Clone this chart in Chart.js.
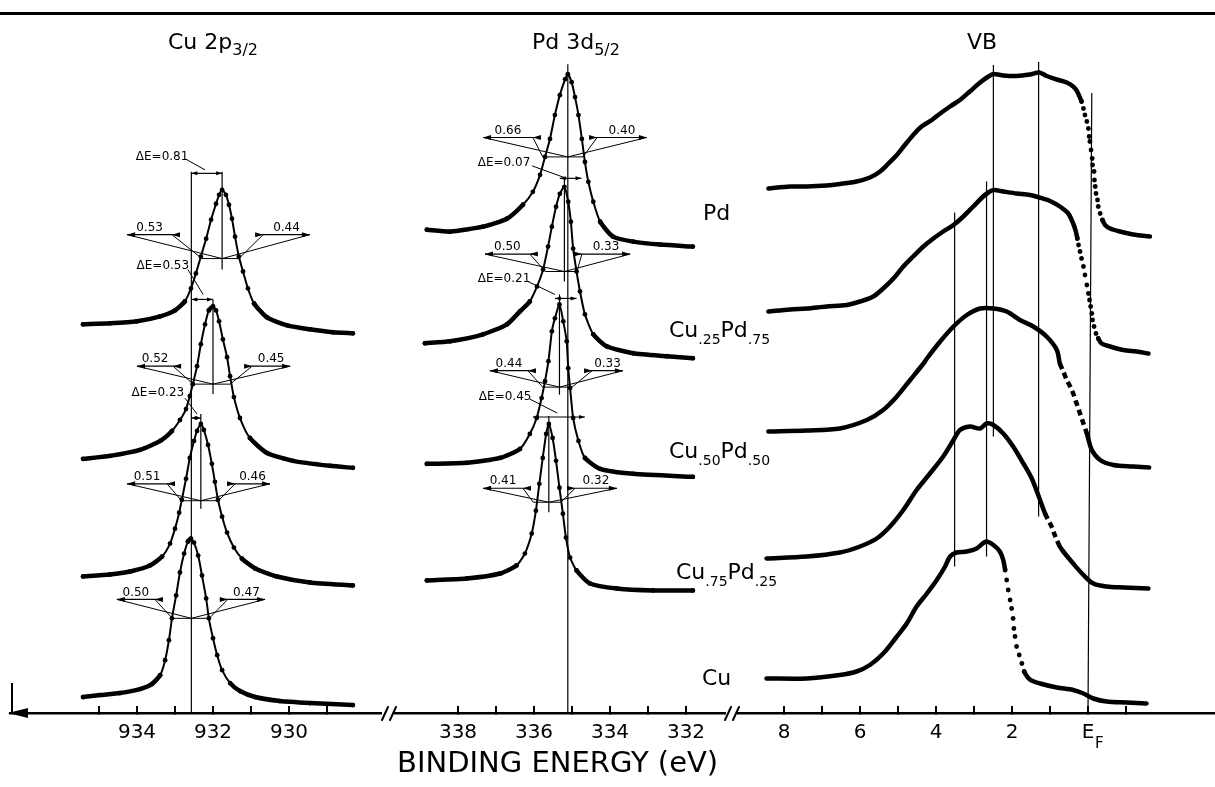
<!DOCTYPE html>
<html>
<head>
<meta charset="utf-8">
<title>XPS Cu-Pd</title>
<script src="https://cdn.jsdelivr.net/npm/chart.js@4.4.7/dist/chart.umd.min.js"></script>
<style>
  html, body { margin: 0; padding: 0; background: #fff; }
  body { position: relative; width: 1215px; height: 787px; overflow: hidden; color: #000; font-family: "DejaVu Sans", sans-serif; }
  canvas { position: absolute; top: 13px; }
  #frame { position: absolute; left: 0; top: 12px; width: 1215px; height: 3px; background: #000; }
  .t { position: absolute; font-size: 22px; line-height: 22px; white-space: nowrap; }
  .t .sb { position: relative; top: 6px; font-size: 16px; }
  .t .s { position: relative; top: 7px; font-size: 14px; }
  #xt { position: absolute; left: 397px; top: 748px; font-size: 29px; line-height: 29px; white-space: nowrap; }
</style>
</head>
<body>
<div id="frame"></div>
<canvas id="cu" width="400" height="774" style="left:0px"></canvas>
<canvas id="pd" width="360" height="774" style="left:380px"></canvas>
<canvas id="vb" width="495" height="774" style="left:720px"></canvas>

<div class="t" style="left:168px;top:31px">Cu 2p<span class="sb">3/2</span></div>
<div class="t" style="left:532px;top:31px">Pd 3d<span class="sb">5/2</span></div>
<div class="t" style="left:967px;top:31px">VB</div>

<div class="t" style="left:703px;top:202px">Pd</div>
<div class="t" style="left:669px;top:319px">Cu<span class="s">.25</span>Pd<span class="s">.75</span></div>
<div class="t" style="left:669px;top:440px">Cu<span class="s">.50</span>Pd<span class="s">.50</span></div>
<div class="t" style="left:676px;top:561px">Cu<span class="s">.75</span>Pd<span class="s">.25</span></div>
<div class="t" style="left:702px;top:667px">Cu</div>

<div id="xt">BINDING ENERGY (eV)</div>

<script>
// ---- Cu 2p3/2 spectra: binding energy (eV) / intensity (arb. units, offset per alloy)
var cu2pCuE = [935.42, 934.97, 934.45, 933.92, 933.61, 933.39, 933.26, 933.16, 933.08, 932.97, 932.87, 932.76, 932.66, 932.58, 932.50, 932.39, 932.29, 932.18, 932.11, 932.00, 931.89, 931.76, 931.55, 931.29, 930.89, 930.24, 929.45, 928.32];
var cu2pCuI = [3.2, 3.6, 4.0, 4.8, 5.8, 7.6, 10.6, 14.6, 19.0, 23.6, 28.2, 32.0, 34.4, 35.0, 34.2, 31.6, 27.6, 23.0, 19.0, 15.0, 11.6, 8.6, 6.0, 4.4, 3.2, 2.4, 2.0, 1.6];

var cu2pCu75E = [935.42, 934.71, 934.18, 933.66, 933.34, 933.13, 933.00, 932.89, 932.82, 932.71, 932.61, 932.50, 932.42, 932.32, 932.24, 932.13, 932.03, 931.95, 931.87, 931.76, 931.63, 931.45, 931.24, 930.89, 930.32, 929.45, 928.32];
var cu2pCu75I = [27.4, 27.8, 28.4, 29.6, 31.4, 34.0, 37.0, 40.2, 42.8, 47.0, 51.2, 54.6, 56.6, 58.0, 56.8, 53.8, 50.0, 46.4, 42.8, 39.4, 36.2, 33.2, 31.0, 29.0, 27.4, 26.2, 25.6];

var cu2pCu50E = [935.42, 934.71, 933.92, 933.39, 933.08, 932.87, 932.71, 932.61, 932.53, 932.42, 932.32, 932.21, 932.11, 932.00, 931.92, 931.84, 931.74, 931.63, 931.55, 931.45, 931.29, 931.03, 930.58, 929.89, 928.92, 928.32];
var cu2pCu50I = [51.0, 51.6, 52.8, 54.6, 56.6, 58.8, 61.0, 63.6, 66.0, 69.6, 74.0, 78.0, 80.8, 81.6, 80.8, 78.6, 75.0, 71.4, 67.6, 63.4, 59.2, 55.2, 52.2, 50.6, 49.6, 49.2];

var cu2pCu25E = [935.42, 934.71, 934.00, 933.39, 933.00, 932.74, 932.58, 932.45, 932.32, 932.18, 932.05, 931.92, 931.84, 931.76, 931.66, 931.58, 931.50, 931.42, 931.32, 931.21, 931.08, 930.92, 930.58, 930.05, 929.45, 928.84, 928.32];
var cu2pCu25I = [78.0, 78.2, 78.6, 79.6, 80.8, 82.6, 85.2, 88.2, 91.6, 95.2, 99.0, 102.2, 104.0, 105.0, 104.0, 102.0, 99.2, 95.6, 91.6, 88.6, 85.2, 82.2, 79.4, 77.8, 77.0, 76.4, 76.2];

// ---- Pd 3d5/2 spectra
var pd3dPdE = [338.82, 338.21, 337.34, 336.71, 336.29, 336.03, 335.84, 335.71, 335.58, 335.45, 335.32, 335.18, 335.11, 335.01, 334.92, 334.83, 334.74, 334.66, 334.57, 334.44, 334.26, 333.92, 333.39, 332.68, 331.82];
var pd3dPdI = [97.0, 96.6, 97.6, 99.2, 102.0, 104.6, 108.0, 111.6, 115.2, 120.0, 124.0, 127.2, 128.2, 126.6, 123.6, 120.0, 115.2, 110.6, 106.6, 102.6, 98.6, 95.6, 94.6, 94.0, 93.6];

var pd3dCu25E = [338.87, 338.21, 337.34, 336.71, 336.37, 336.11, 335.92, 335.76, 335.63, 335.53, 335.42, 335.32, 335.20, 335.10, 335.03, 334.97, 334.88, 334.79, 334.66, 334.44, 334.09, 333.39, 332.50, 331.82];
var pd3dCu25I = [74.2, 74.6, 76.0, 78.0, 80.6, 82.6, 85.6, 89.0, 93.6, 97.6, 101.6, 104.2, 105.6, 102.6, 98.6, 93.2, 88.6, 84.6, 80.0, 76.0, 73.6, 72.2, 71.6, 71.2];

var pd3dCu50E = [338.82, 337.77, 336.89, 336.37, 336.11, 335.93, 335.80, 335.71, 335.62, 335.53, 335.45, 335.33, 335.23, 335.14, 335.10, 335.05, 334.97, 334.83, 334.66, 334.26, 333.39, 331.82];
var pd3dCu50I = [50.0, 50.2, 51.2, 53.0, 56.0, 59.2, 63.2, 66.6, 70.6, 76.6, 79.2, 82.0, 78.6, 74.6, 69.2, 65.2, 59.2, 54.6, 51.2, 49.0, 48.0, 47.4];

var pd3dCu75E = [338.82, 337.77, 336.89, 336.46, 336.24, 336.06, 335.95, 335.86, 335.77, 335.68, 335.61, 335.51, 335.42, 335.33, 335.24, 335.16, 335.05, 334.88, 334.53, 333.82, 332.87, 331.82];
var pd3dCu75I = [26.6, 27.0, 28.0, 29.6, 32.0, 36.0, 40.6, 46.0, 51.2, 56.0, 58.0, 55.2, 50.6, 45.2, 40.0, 35.2, 31.2, 28.6, 26.0, 25.0, 24.6, 24.6];

// ---- valence band spectra (energy relative to E_F)
var vbPdE = [8.41, 7.84, 7.40, 6.88, 6.53, 6.09, 5.74, 5.47, 5.25, 5.03, 4.82, 4.60, 4.38, 4.11, 3.89, 3.63, 3.37, 3.11, 2.84, 2.62, 2.49, 2.23, 1.88, 1.53, 1.28, 1.09, 0.82, 0.56, 0.39, 0.30, 0.23,
  0.17, 0.12, 0.08, 0.03, -0.01, -0.03, -0.05, -0.08, -0.11, -0.12, -0.16, -0.17, -0.19, -0.21, -0.25, -0.27, -0.32, -0.38,
  -0.45, -0.58, -0.84, -1.19, -1.63];
var vbPdI = [104.9, 105.3, 105.3, 105.5, 105.8, 106.3, 107.1, 108.3, 109.9, 111.6, 113.6, 115.6, 117.3, 118.6, 119.9, 121.3, 122.6, 124.3, 126.1, 127.3, 127.8, 127.5, 127.4, 127.7, 128.1, 127.4, 126.7, 126.1, 125.3, 124.5, 123.4,
  122.3, 120.9, 119.6, 118.3, 116.9, 115.3, 114.3, 112.6, 110.9, 109.6, 108.3, 106.6, 105.3, 103.9, 102.6, 101.3, 99.9, 98.6,
  97.6, 96.9, 96.3, 95.7, 95.3];

var vbCu25E = [8.41, 7.84, 7.40, 6.88, 6.35, 6.00, 5.65, 5.39, 5.12, 4.86, 4.60, 4.33, 4.07, 3.81, 3.54, 3.28, 3.02, 2.76, 2.62, 2.49, 2.23, 1.88, 1.53, 1.28, 1.00, 0.74, 0.52, 0.39, 0.32,
  0.28, 0.25, 0.21, 0.17, 0.12, 0.08, 0.03, -0.01, -0.04, -0.07, -0.10, -0.12, -0.16, -0.21, -0.27,
  -0.36, -0.58, -0.93, -1.28, -1.59];
var vbCu25I = [80.3, 80.7, 80.9, 81.3, 81.6, 82.3, 83.3, 84.9, 86.9, 89.3, 91.3, 93.3, 94.9, 96.3, 97.6, 99.3, 101.3, 103.3, 104.1, 104.6, 104.3, 103.9, 103.6, 103.1, 102.4, 101.3, 99.9, 97.9, 96.3,
  94.9, 93.6, 92.3, 90.9, 89.3, 87.6, 85.6, 83.9, 82.6, 81.3, 79.9, 78.6, 77.3, 75.9, 74.9,
  73.9, 73.3, 72.6, 72.3, 71.9];

var vbCu50E = [8.41, 7.40, 6.53, 5.82, 5.39, 5.03, 4.68, 4.33, 4.24, 3.89, 3.54, 3.19, 2.84, 2.49, 2.14, 1.79, 1.44, 1.09, 0.82,
  0.74, 0.65, 0.56, 0.47, 0.39, 0.30, 0.21, 0.12, 0.03,
  -0.10, -0.32, -0.67, -1.19, -1.61];
var vbCu50I = [56.3, 56.5, 56.9, 58.6, 60.6, 63.3, 66.6, 69.9, 70.9, 74.3, 77.3, 79.6, 80.9, 80.9, 80.3, 78.6, 77.3, 75.3, 72.6,
  69.9, 68.3, 66.6, 65.3, 63.9, 61.9, 59.9, 57.9, 55.9,
  52.6, 50.6, 49.6, 49.3, 49.1];

var vbCu75E = [8.46, 7.40, 6.53, 6.00, 5.56, 5.21, 4.86, 4.51, 4.16, 3.81, 3.54, 3.37, 3.11, 2.84, 2.67, 2.49, 2.23, 1.97, 1.70, 1.48, 1.31, 1.13,
  0.96, 0.89, 0.82, 0.75,
  0.65, 0.39, 0.12, -0.14, -0.49, -0.93, -1.59];
var vbCu75I = [30.9, 31.3, 32.1, 33.3, 34.9, 37.3, 40.6, 44.6, 47.9, 51.3, 54.6, 56.6, 57.3, 56.9, 57.9, 57.6, 55.9, 53.3, 49.9, 46.9, 43.6, 39.9,
  37.3, 35.9, 34.6, 33.4,
  32.3, 29.9, 27.6, 25.9, 25.3, 25.1, 24.9];

var vbCuE = [8.46, 7.40, 6.53, 6.09, 5.74, 5.39, 5.03, 4.77, 4.51, 4.24, 3.98, 3.76, 3.63, 3.46, 3.19, 2.93, 2.68, 2.49, 2.32, 2.23,
  2.18, 2.14, 2.10, 2.05, 2.01, 1.97, 1.95, 1.92, 1.88, 1.81, 1.74, 1.68,
  1.53, 1.26, 0.82, 0.39, 0.12, -0.14, -0.49, -1.02, -1.54];
var vbCuI = [6.9, 6.9, 7.6, 8.3, 9.6, 11.9, 15.3, 17.9, 21.3, 23.9, 26.6, 29.3, 31.3, 32.1, 32.3, 32.9, 34.3, 33.6, 32.3, 30.6,
  28.6, 26.6, 24.6, 22.6, 20.9, 18.9, 16.9, 15.3, 13.3, 11.6, 9.9, 8.3,
  6.7, 5.9, 5.1, 4.6, 3.9, 2.9, 2.3, 2.1, 1.9];

// energy window of the steep Fermi edge, drawn as separate dots / dashes
var vbEdges = [[0.20, -0.40], [0.30, -0.30], [0.80, 0.00], [1.13, 0.70], [2.20, 1.60]];

// ---- axis ticks
var cuTicks = [935, 934, 933, 932, 931, 930, 929];
var cuTickText = ['', '934', '', '932', '', '930', ''];
var pdTicks = [338, 337, 336, 335, 334, 333, 332];
var pdTickText = ['338', '', '336', '', '334', '', '332'];
var vbTicks = [8, 7, 6, 5, 4, 3, 2, 1, 0, -1];
var vbTickText = ['8', '', '6', '', '4', '', '2', '', 'E', ''];

// ---- peak positions (vertical markers): [E top, I top, E bottom, I bottom]
var cuMarks = [[932.57, 108.6, 932.57, 0], [931.76, 108.6, 931.76, 89.0], [932.00, 83.0, 932.00, 64.0], [932.32, 60.0, 932.32, 41.0]];
var pdMarks = [[335.11, 130.2, 335.11, 0], [335.20, 107.3, 335.20, 86.6], [335.33, 84.0, 335.33, 63.9], [335.61, 59.6, 335.61, 40.3]];
var vbMarks = [[2.49, 129.6, 2.49, 55.3], [1.30, 130.2, 1.30, 39.3], [2.67, 106.3, 2.67, 31.3], [3.51, 100.1, 3.51, 29.3], [-0.10, 124.0, 0.00, 0.0]];

// ---- half widths (eV) left / right of each peak
var cuWidths = [
  { peak: 932.57, half: 19.0, wl: 0.50, wr: 0.47, dimL: [934.53, 933.53], dimR: [931.61, 930.63], dimV: 22.8 },
  { peak: 932.32, half: 42.6, wl: 0.51, wr: 0.46, dimL: [934.26, 933.21], dimR: [931.42, 930.50], dimV: 46.0 },
  { peak: 932.00, half: 66.0, wl: 0.52, wr: 0.45, dimL: [934.00, 933.05], dimR: [930.97, 929.97], dimV: 69.6 },
  { peak: 931.76, half: 91.2, wl: 0.53, wr: 0.44, dimL: [934.26, 933.08], dimR: [930.68, 929.45], dimV: 96.0 }
];
var pdWidths = [
  { peak: 335.11, half: 111.6, wl: 0.66, wr: 0.40, dimL: [337.34, 336.03], dimR: [334.34, 333.03], dimV: 115.5 },
  { peak: 335.20, half: 88.6, wl: 0.50, wr: 0.33, dimL: [337.29, 336.11], dimR: [334.74, 333.47], dimV: 92.1 },
  { peak: 335.33, half: 65.4, wl: 0.44, wr: 0.33, dimL: [337.16, 336.16], dimR: [334.47, 333.66], dimV: 68.7 },
  { peak: 335.61, half: 42.3, wl: 0.41, wr: 0.32, dimL: [337.34, 336.29], dimR: [334.92, 333.82], dimV: 45.1 }
];

// ---- chemical shifts
var cuShifts = [
  { label: '\u0394E=0.81', tx: 933.34, tv: 111.6, lead: [932.68, 111.0, 932.21, 109.0], arrow: [932.57, 931.76, 108.3] },
  { label: '\u0394E=0.53', tx: 933.32, tv: 89.8, lead: [932.66, 89.0, 932.26, 84.0], arrow: [932.57, 932.00, 83.0] },
  { label: '\u0394E=0.23', tx: 933.45, tv: 64.2, lead: [932.74, 63.2, 932.42, 60.0], arrow: [932.57, 932.32, 59.2] }
];
var pdShifts = [
  { label: '\u0394E=0.07', tx: 336.79, tv: 110.4, lead: [336.05, 109.8, 335.18, 107.4], arrow: [335.32, 334.75, 107.3] },
  { label: '\u0394E=0.21', tx: 336.79, tv: 87.2, lead: [336.16, 86.6, 335.45, 84.0], arrow: [335.45, 334.88, 83.2] },
  { label: '\u0394E=0.45', tx: 336.76, tv: 63.4, lead: [336.11, 63.0, 335.39, 60.2], arrow: [336.03, 334.66, 59.4] }
];

function pts(es, is) {
  return es.map(function (e, i) { return { x: e, y: is[i] }; });
}

// core-level curve: thin line + dots on the flanks, thick trace on the flat tails
function peakSet(es, is) {
  return {
    data: pts(es, is),
    borderColor: '#000',
    backgroundColor: '#000',
    borderWidth: 2,
    borderCapStyle: 'round',
    borderJoinStyle: 'round',
    tension: 0.2,
    pointRadius: 2.4,
    pointHoverRadius: 2.4,
    pointBorderWidth: 0,
    segment: {
      borderWidth: function (ctx) {
        var dx = Math.abs(ctx.p1.x - ctx.p0.x);
        var dy = Math.abs(ctx.p1.y - ctx.p0.y);
        return dy > dx * 1.2 ? 2 : 4.5;
      },
    },
  };
}

// valence band curve: thick trace, Fermi edge as dots or dashes
function vbSet(es, is, edge, dashed) {
  function inEdge(e) { return e <= edge[0] && e >= edge[1]; }
  function both(ctx) { return inEdge(es[ctx.p0DataIndex]) && inEdge(es[ctx.p1DataIndex]); }
  return {
    data: pts(es, is),
    borderColor: '#000',
    backgroundColor: '#000',
    borderWidth: 4.5,
    borderCapStyle: 'round',
    borderJoinStyle: 'round',
    tension: 0.3,
    pointBorderWidth: 0,
    pointHoverRadius: 0,
    pointRadius: function (ctx) {
      return !dashed && ctx.raw && inEdge(ctx.raw.x) ? 2.4 : 0;
    },
    segment: dashed ? {
      borderDash: function (ctx) { return both(ctx) ? [6, 4] : undefined; },
      borderCapStyle: function (ctx) { return both(ctx) ? 'butt' : undefined; },
    } : {
      borderColor: function (ctx) { return both(ctx) ? 'rgba(0,0,0,0)' : undefined; },
    },
  };
}

function line(c, x1, y1, x2, y2, w) {
  c.lineWidth = w;
  c.beginPath();
  c.moveTo(x1, y1);
  c.lineTo(x2, y2);
  c.stroke();
}

// filled arrow head, tip at (x, y); dir -1 points left, +1 points right
function head(c, x, y, dir, len, half) {
  c.beginPath();
  c.moveTo(x, y);
  c.lineTo(x - dir * len, y - half);
  c.lineTo(x - dir * len, y + half);
  c.closePath();
  c.fill();
}

function notes(cfg) {
  return {
    id: 'notes',
    afterDatasetsDraw: function (chart) {
      var c = chart.ctx;
      var xs = chart.scales.x, ys = chart.scales.y;
      var X = function (e) { return xs.getPixelForValue(e); };
      var Y = function (v) { return ys.getPixelForValue(v); };
      var L = chart.chartArea.left, B = chart.chartArea.bottom;
      c.save();
      c.strokeStyle = '#000';
      c.fillStyle = '#000';
      c.font = '12px "DejaVu Sans"';
      c.textAlign = 'center';

      (cfg.marks || []).forEach(function (m) {
        line(c, X(m[0]), Y(m[1]), X(m[2]), Y(m[3]), 1.2);
      });

      (cfg.widths || []).forEach(function (w) {
        var px = X(w.peak), hy = Y(w.half);
        var fl = X(w.peak + w.wl), fr = X(w.peak - w.wr), dy = Y(w.dimV);
        line(c, fl, hy, fr, hy, 1);
        var lo = X(w.dimL[0]), li = X(w.dimL[1]);
        line(c, lo, dy, li + 8, dy, 1.2);
        head(c, lo, dy, -1, 8, 2.5);
        head(c, li, dy, -1, 8, 2.5);
        line(c, lo, dy, px, hy, 1);
        line(c, li, dy, fl, hy, 1);
        var ri = X(w.dimR[0]), ro = X(w.dimR[1]);
        line(c, ri - 8, dy, ro, dy, 1.2);
        head(c, ro, dy, 1, 8, 2.5);
        head(c, ri, dy, 1, 8, 2.5);
        line(c, ro, dy, px, hy, 1);
        line(c, ri, dy, fr, hy, 1);
        c.textBaseline = 'bottom';
        c.fillText(w.wl.toFixed(2), (lo + li) / 2, dy - 1);
        c.fillText(w.wr.toFixed(2), (ri + ro) / 2, dy - 1);
      });

      (cfg.shifts || []).forEach(function (d) {
        c.textBaseline = 'middle';
        c.fillText(d.label, X(d.tx), Y(d.tv));
        line(c, X(d.lead[0]), Y(d.lead[1]), X(d.lead[2]), Y(d.lead[3]), 1);
        var a0 = Math.min(X(d.arrow[0]), X(d.arrow[1]));
        var a1 = Math.max(X(d.arrow[0]), X(d.arrow[1]));
        var ay = Y(d.arrow[2]);
        line(c, a0, ay, a1, ay, 1.2);
        head(c, a0, ay, -1, 6, 2);
        head(c, a1, ay, 1, 6, 2);
      });

      if (cfg.arrow) {
        head(c, L - 2, B, -1, 20, 5);
        line(c, L + 2, B - 30, L + 2, B, 2);
      }
      if (cfg.brk) {
        c.lineCap = 'round';
        line(c, L - 13, B + 7, L - 7, B - 6, 2);
        line(c, L - 5, B + 7, L + 1, B - 6, 2);
      }
      if (cfg.fermi) {
        c.font = '15px "DejaVu Sans"';
        c.textAlign = 'left';
        c.textBaseline = 'alphabetic';
        c.fillText('F', X(0) + 7, B + 35);
      }
      c.restore();
    },
  };
}

function panel(id, sets, xmin, xmax, ticks, tickText, padL, padR, cfg) {
  return new Chart(document.getElementById(id), {
    type: 'line',
    data: { datasets: sets },
    options: {
      responsive: false,
      animation: false,
      events: [],
      layout: { padding: { left: padL, right: padR, top: 0, bottom: 0 } },
      plugins: { legend: { display: false }, tooltip: { enabled: false } },
      scales: {
        x: {
          type: 'linear',
          reverse: true,
          min: xmin,
          max: xmax,
          afterBuildTicks: function (axis) {
            axis.ticks = ticks.map(function (v) { return { value: v }; });
          },
          afterFit: function (axis) { axis.height = 74; },
          grid: { drawOnChartArea: false, drawTicks: true, tickLength: -7, color: '#000', lineWidth: 2 },
          border: { display: true, color: '#000', width: 2.5 },
          ticks: {
            color: '#000',
            font: { family: 'DejaVu Sans', size: 20 },
            padding: 15,
            maxRotation: 0,
            autoSkip: false,
            callback: function (value, index) { return tickText[index]; },
          },
        },
        y: { display: false, min: 0, max: 140 },
      },
    },
    plugins: [notes(cfg)],
  });
}

panel('cu', [
  peakSet(cu2pCuE, cu2pCuI),
  peakSet(cu2pCu75E, cu2pCu75I),
  peakSet(cu2pCu50E, cu2pCu50I),
  peakSet(cu2pCu25E, cu2pCu25I),
], 927.5789, 937.3421, cuTicks, cuTickText, 10, 19,
  { marks: cuMarks, widths: cuWidths, shifts: cuShifts, arrow: true });

panel('pd', [
  peakSet(pd3dPdE, pd3dPdI),
  peakSet(pd3dCu25E, pd3dCu25I),
  peakSet(pd3dCu50E, pd3dCu50I),
  peakSet(pd3dCu75E, pd3dCu75I),
], 330.9737, 339.6579, pdTicks, pdTickText, 15, 15,
  { marks: pdMarks, widths: pdWidths, shifts: pdShifts, brk: true });

panel('vb', [
  vbSet(vbPdE, vbPdI, vbEdges[0], false),
  vbSet(vbCu25E, vbCu25I, vbEdges[1], false),
  vbSet(vbCu50E, vbCu50I, vbEdges[2], true),
  vbSet(vbCu75E, vbCu75I, vbEdges[3], true),
  vbSet(vbCuE, vbCuI, vbEdges[4], false),
], -3.3421, 9.2105, vbTicks, vbTickText, 18, 0,
  { marks: vbMarks, brk: true, fermi: true });
</script>
</body>
</html>
